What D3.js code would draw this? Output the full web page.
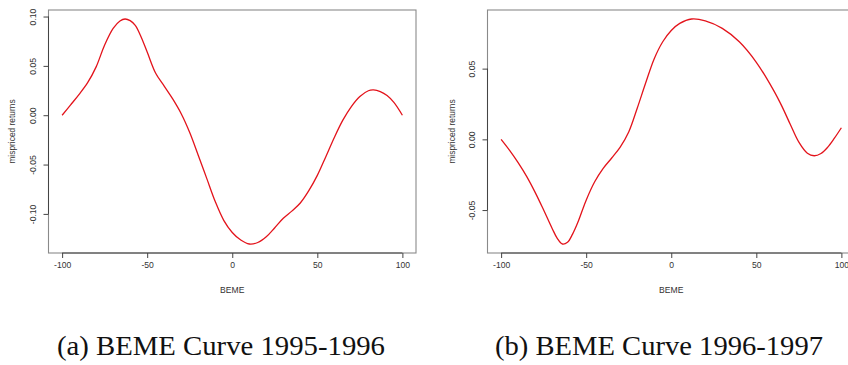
<!DOCTYPE html>
<html>
<head>
<meta charset="utf-8">
<script src="https://cdn.jsdelivr.net/npm/d3@7"></script>
<style>
  html, body { margin: 0; padding: 0; background: #fff; }
  svg { display: block; }
</style>
</head>
<body>
<svg id="chart" width="848" height="365"></svg>
<script>
// ---- data ----
const xTicks = [-100, -50, 0, 50, 100];
const xTickLabels = ["-100", "-50", "0", "50", "100"];

const yTicksA = [-0.10, -0.05, 0.00, 0.05, 0.10];
const yTickLabelsA = ["-0.10", "-0.05", "0.00", "0.05", "0.10"];
const yTicksB = [-0.05, 0.00, 0.05];
const yTickLabelsB = ["-0.05", "0.00", "0.05"];

// (a) 1995-1996
const bemeA = [-100, -95, -90, -85, -80, -75, -70, -66, -63, -60, -57, -54, -50, -45, -40, -35, -30, -25, -20, -15, -10, -5, 0, 5, 10, 15, 20, 25, 30, 35, 40, 45, 50, 55, 60, 65, 70, 75, 80, 83, 87, 91, 95, 100];
const returnsA = [0.0000, 0.0105, 0.0212, 0.0330, 0.0490, 0.0712, 0.0880, 0.0955, 0.0975, 0.0958, 0.0910, 0.0810, 0.0640, 0.0425, 0.0295, 0.0165, 0.0015, -0.0175, -0.0405, -0.0640, -0.0875, -0.1065, -0.1188, -0.1265, -0.1305, -0.1290, -0.1232, -0.1140, -0.1045, -0.0972, -0.0890, -0.0765, -0.0610, -0.0420, -0.0225, -0.0050, 0.0088, 0.0190, 0.0248, 0.0256, 0.0240, 0.0200, 0.0130, 0.0000];

// (b) 1996-1997
const bemeB = [-100, -95, -90, -85, -80, -75, -70, -67, -64, -61, -58, -55, -50, -45, -40, -35, -30, -25, -20, -15, -10, -5, 0, 5, 12, 20, 30, 40, 50, 60, 65, 70, 75, 80, 84, 88, 92, 96, 100];
const returnsB = [0.0000, -0.0078, -0.0165, -0.0262, -0.0375, -0.0500, -0.0630, -0.0700, -0.0740, -0.0728, -0.0670, -0.0590, -0.0430, -0.0300, -0.0205, -0.0132, -0.0055, 0.0052, 0.0220, 0.0400, 0.0570, 0.0690, 0.0770, 0.0820, 0.0851, 0.0838, 0.0785, 0.0690, 0.0545, 0.0350, 0.0235, 0.0105, -0.0020, -0.0098, -0.0116, -0.0100, -0.0055, 0.0010, 0.0082];

const xTitle = "BEME";
const yTitle = "mispriced returns";
const captions = ["(a) BEME Curve 1995-1996", "(b) BEME Curve 1996-1997"];

// ---- drawing ----
const svg = d3.select("#chart");

function rExpand(ext) {
  const d = (ext[1] - ext[0]) * 0.04;
  return [ext[0] - d, ext[1] + d];
}

function panel(cfg) {
  const g = svg.append("g");
  const x = d3.scaleLinear().domain(rExpand(d3.extent(cfg.xs))).range([cfg.left, cfg.right]);
  const y = d3.scaleLinear().domain(rExpand(d3.extent(cfg.ys))).range([cfg.bottom, cfg.top]);

  // box
  g.append("rect")
    .attr("x", cfg.left).attr("y", cfg.top)
    .attr("width", cfg.right - cfg.left).attr("height", cfg.bottom - cfg.top)
    .attr("fill", "none").attr("stroke", "#8a8a8a").attr("stroke-width", 1.1);

  // x axis (R style)
  const xa = d3.axisBottom(x).tickValues(xTicks)
    .tickFormat((d, i) => xTickLabels[i]).tickSize(5).tickSizeOuter(0).tickPadding(4);
  const gx = g.append("g").attr("transform", `translate(0,${cfg.bottom})`).call(xa);
  gx.select(".domain").remove();
  gx.append("line")
    .attr("x1", x(xTicks[0])).attr("x2", x(xTicks[xTicks.length - 1]))
    .attr("stroke", "#444");
  gx.selectAll(".tick line").attr("stroke", "#444");
  gx.selectAll("text")
    .attr("fill", "#333").attr("font-family", "Liberation Sans, Arial, sans-serif")
    .attr("font-size", "8.6px");

  // y axis (R style, labels parallel to axis)
  const ya = d3.axisLeft(y).tickValues(cfg.yTicks)
    .tickFormat((d, i) => cfg.yLabels[i]).tickSize(5).tickSizeOuter(0);
  const gy = g.append("g").attr("transform", `translate(${cfg.left},0)`).call(ya);
  gy.select(".domain").remove();
  gy.append("line")
    .attr("y1", y(cfg.yTicks[0])).attr("y2", y(cfg.yTicks[cfg.yTicks.length - 1]))
    .attr("stroke", "#444");
  gy.selectAll(".tick line").attr("stroke", "#444");
  gy.selectAll(".tick text")
    .attr("x", null).attr("dy", null)
    .attr("text-anchor", "middle")
    .attr("transform", `translate(${-cfg.yLabOff},0) rotate(-90)`)
    .attr("fill", "#333").attr("font-family", "Liberation Sans, Arial, sans-serif")
    .attr("font-size", "8.6px");

  // titles
  g.append("text")
    .attr("x", x(0)).attr("y", cfg.bottom + 40)
    .attr("text-anchor", "middle")
    .attr("fill", "#333").attr("font-family", "Liberation Sans, Arial, sans-serif")
    .attr("font-size", "8.6px").text(xTitle);
  g.append("text")
    .attr("transform", `translate(${cfg.left - cfg.yTitleOff},${(cfg.top + cfg.bottom) / 2}) rotate(-90)`)
    .attr("text-anchor", "middle")
    .attr("fill", "#333").attr("font-family", "Liberation Sans, Arial, sans-serif")
    .attr("font-size", "8.4px").text(yTitle);

  // curve
  const line = d3.line()
    .x((d, i) => x(cfg.xs[i]))
    .y((d, i) => y(cfg.ys[i]))
    .curve(d3.curveCatmullRom.alpha(0.5));
  g.append("path")
    .attr("d", line(cfg.xs))
    .attr("fill", "none")
    .attr("stroke", "#e3131b")
    .attr("stroke-width", 1.3);

  // caption
  g.append("text")
    .attr("x", cfg.capX).attr("y", 355)
    .attr("font-family", "Liberation Serif, 'Times New Roman', serif")
    .attr("font-size", "27px")
    .attr("fill", "#111")
    .attr("textLength", 328).attr("lengthAdjust", "spacingAndGlyphs")
    .text(cfg.caption);
}

panel({
  xs: bemeA, ys: returnsA, yTicks: yTicksA, yLabels: yTickLabelsA,
  left: 48.5, right: 416, top: 10, bottom: 253,
  yLabOff: 13, yTitleOff: 33.5, capX: 57, caption: captions[0]
});
panel({
  xs: bemeB, ys: returnsB, yTicks: yTicksB, yLabels: yTickLabelsB,
  left: 487.5, right: 855, top: 10, bottom: 253,
  yLabOff: 12.5, yTitleOff: 32.5, capX: 495, caption: captions[1]
});
</script>
</body>
</html>
